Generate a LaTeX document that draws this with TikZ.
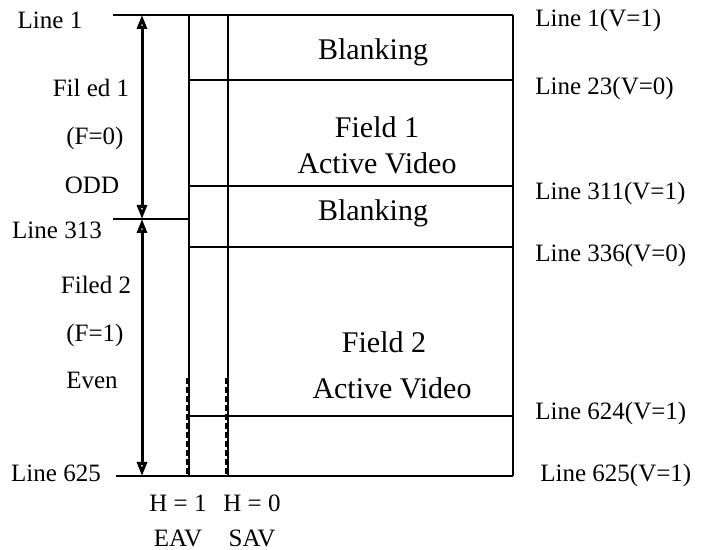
\documentclass[tikz,border=0pt]{standalone}
\usepackage{fontspec}
\setmainfont{Liberation Serif}
\usetikzlibrary{positioning, arrows.meta}
\tikzset{node distance=10pt,
	grid/.style={line width=1pt},
	lbl/.style={font=\fontsize{12.5}{15}\selectfont, inner sep=0pt},
	rlbl/.style={lbl, anchor=west},
	big/.style={font=\fontsize{15}{18}\selectfont, inner sep=0pt, align=center},
	span/.style={line width=1.5pt, {Triangle[open, length=7pt, width=5pt]}-{Triangle[open, length=7pt, width=5pt]}},
	ext/.style={line width=1.2pt, dash pattern=on 3pt off 1.5pt}}

\begin{document}
\begin{tikzpicture}[x=0.5pt, y=-0.5pt]
    \useasboundingbox (0,0) rectangle (718,550);
    % frame rows
    \foreach \n/\y in {1/15, 23/80, 311/186, 336/247, 624/416, 625/476} {
        \coordinate (a\n) at (189,\y);
        \coordinate (b\n) at (228,\y);
        \coordinate (c\n) at (513,\y);
        \draw[grid] (a\n) -- (c\n);
    }
    \draw[grid] (a1) -- (a625);
    \draw[grid] (b1) -- (b625);
    \draw[grid] (c1) -- (c625);
    \coordinate (e1) at (187,378);
    \coordinate (e2) at (187,476);
    \coordinate (s1) at (226,378);
    \coordinate (s2) at (226,476);
    \draw[ext] (e1) -- (e2);
    \draw[ext] (s1) -- (s2);

    % fields on the left
    \coordinate (t1) at (113,15);
    \coordinate (t313) at (113,219);
    \coordinate (m313) at (189,219);
    \coordinate (t625) at (116,476);
    \draw[grid] (t1) -- (a1);
    \draw[grid] (t313) -- (m313);
    \draw[grid] (t625) -- (a625);
    \coordinate (p1) at (142,15);
    \coordinate (p313) at (142,219);
    \coordinate (p625) at (142,476);
    \draw[span] (p1) -- (p313);
    \draw[span] (p313) -- (p625);

    \node[lbl] (line1) at (50,20) {Line 1};
    \node[lbl] (f1) at (91,88) {Fil ed 1};
    \node[lbl] (f1v) at (95,138) {(F=0)};
    \node[lbl] (odd) at (92,185) {ODD};
    \node[lbl] (line313) at (57,230) {Line 313};
    \node[lbl] (f2) at (96,285) {Filed 2};
    \node[lbl] (f2v) at (95,335) {(F=1)};
    \node[lbl] (even) at (92,380) {Even};
    \node[lbl] (line625) at (56,473) {Line 625};

    % inside the frame
    \node[big] (blank1) at (373,52) {Blanking};
    \node[big] (act1) at (377,145) {Field 1\\Active Video};
    \node[big] (blank2) at (373,213) {Blanking};
    \node[big] (fld2) at (384,342) {Field 2};
    \node[big] (act2) at (392,388) {Active Video};

    % line numbers on the right
    \node[rlbl] (r1) at (535,20) {Line 1(V=1)};
    \node[rlbl] (r23) at (535,88) {Line 23(V=0)};
    \node[rlbl] (r311) at (535,193) {Line 311(V=1)};
    \node[rlbl] (r336) at (535,255) {Line 336(V=0)};
    \node[rlbl] (r624) at (535,413) {Line 624(V=1)};
    \node[rlbl] (r625) at (540,475) {Line 625(V=1)};

    % codes below
    \node[lbl] (h1) at (178,503) {H = 1};
    \node[lbl, below=9pt of h1.south, anchor=north] (eav) {EAV};
    \node[lbl] (h0) at (252,503) {H = 0};
    \node[lbl, below=9pt of h0.south, anchor=north] (sav) {SAV};
\end{tikzpicture}
\end{document}
